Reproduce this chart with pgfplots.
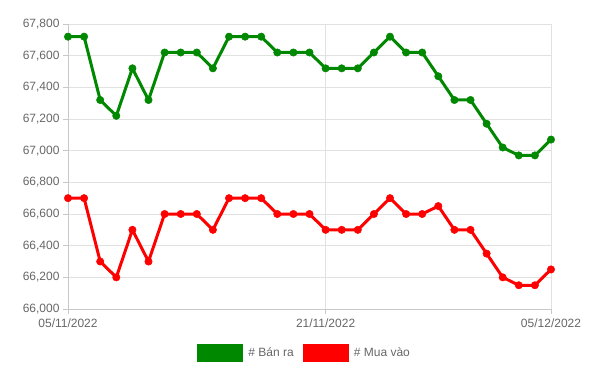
\documentclass[border=0pt]{standalone}
\usepackage{pgfplots}
\pgfplotsset{compat=1.18}
\usepackage{fontspec}
\setmainfont{Liberation Sans}
\definecolor{cgreen}{RGB}{0,136,0}
\definecolor{cred}{RGB}{255,0,0}
\definecolor{gridc}{RGB}{225,225,225}
\definecolor{axc}{RGB}{200,200,200}
\definecolor{tickc}{RGB}{102,102,102}
\begin{document}
\begin{tikzpicture}[x=1bp,y=1bp]
\useasboundingbox (0,0) rectangle (609,370);
\begin{axis}[
  at={(68bp,61bp)}, anchor=south west,
  scale only axis, width=483bp, height=285bp,
  xmin=0, xmax=30, ymin=66000, ymax=67800,
  xtick={0,16,30}, xticklabels={05/11/2022,21/11/2022,05/12/2022},
  ytick distance=200,
  scaled y ticks=false,
  yticklabel style={/pgf/number format/.cd, fixed, precision=0, 1000 sep={,}},
  axis lines=left, axis line style={axc,-, line width=0.8bp},
  tick align=outside, major tick length=5bp,
  tick style={axc, line width=0.8bp},
  grid=major, grid style={gridc, line width=0.8bp},
  tick label style={font=\fontsize{12bp}{14bp}\selectfont, text=tickc},
  /pgf/number format/assume math mode=true,
  /pgf/number format/1000 sep={,},
  xticklabel style={yshift=-1bp},
  clip=false,
  legend columns=2,
  legend style={at={(0.49,-0.154)}, anchor=center, draw=none, fill=none,
    font=\fontsize{12bp}{14bp}\selectfont, text=tickc,
    /tikz/every even column/.append style={column sep=7bp},
    inner sep=0pt, cells={anchor=west}},
]
\addplot[cgreen, line width=3bp, mark=*, mark size=3.7bp, mark options={fill=cgreen, draw=cgreen, line width=0.5bp},
  legend image code/.code={\fill[cgreen] (0bp,-7.5bp) rectangle (43bp,7.5bp); \path (46bp,0bp);}]
coordinates {
(0,67720)(1,67720)(2,67320)(3,67220)(4,67520)(5,67320)(6,67620)(7,67620)(8,67620)(9,67520)
(10,67720)(11,67720)(12,67720)(13,67620)(14,67620)(15,67620)(16,67520)(17,67520)(18,67520)(19,67620)
(20,67720)(21,67620)(22,67620)(23,67470)(24,67320)(25,67320)(26,67170)(27,67020)(28,66970)(29,66970)(30,67070)
};
\addlegendentry{\# Bán ra}
\addplot[cred, line width=3bp, mark=*, mark size=3.7bp, mark options={fill=cred, draw=cred, line width=0.5bp},
  legend image code/.code={\fill[cred] (0bp,-7.5bp) rectangle (43bp,7.5bp); \path (46bp,0bp);}]
coordinates {
(0,66700)(1,66700)(2,66300)(3,66200)(4,66500)(5,66300)(6,66600)(7,66600)(8,66600)(9,66500)
(10,66700)(11,66700)(12,66700)(13,66600)(14,66600)(15,66600)(16,66500)(17,66500)(18,66500)(19,66600)
(20,66700)(21,66600)(22,66600)(23,66650)(24,66500)(25,66500)(26,66350)(27,66200)(28,66150)(29,66150)(30,66250)
};
\addlegendentry{\# Mua vào}
\end{axis}
\end{tikzpicture}
\end{document}
